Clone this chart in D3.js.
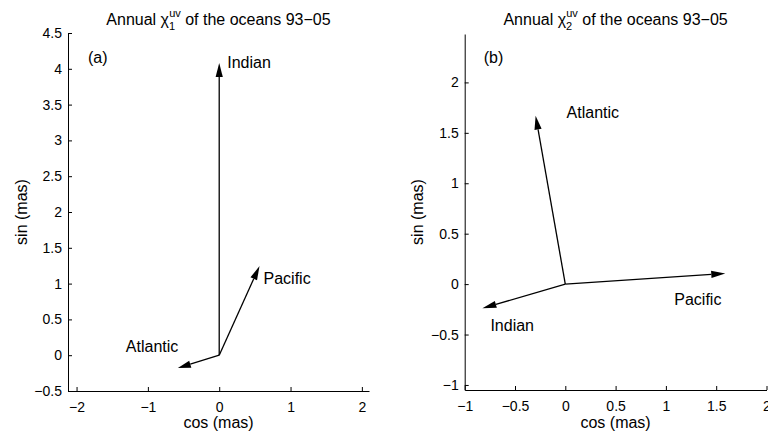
<!DOCTYPE html>
<html>
<head>
<meta charset="utf-8">
<script src="https://cdn.jsdelivr.net/npm/d3@7"></script>
<style>
  body { margin: 0; background: #fff; }
  svg { display: block; font-family: "Liberation Sans", Arial, Helvetica, sans-serif; }
  text { fill: #000; }
</style>
</head>
<body>
<svg id="chart" width="768" height="437"></svg>
<script>
// annual vectors, one per ocean (mas)
var oceans = ["Atlantic", "Indian", "Pacific"]
var cosA = [-0.58, 0.0, 0.565]
var sinA = [-0.18, 4.08, 1.245]
var cosB = [-0.295, -0.824, 1.59]
var sinB = [1.67, -0.24, 0.106]

var xTicksA = [-2, -1, 0, 1, 2]
var yTicksA = [-0.5, 0, 0.5, 1, 1.5, 2, 2.5, 3, 3.5, 4, 4.5]
var xTicksB = [-1, -0.5, 0, 0.5, 1, 1.5, 2]
var yTicksB = [-1, -0.5, 0, 0.5, 1, 1.5, 2]

var svg = d3.select("#chart")
var fmt = function(d) { return String(d).replace("-", "\u2212") }

function panel(p) {
  var g = svg.append("g")
  var x = d3.scaleLinear().domain(p.xDom).range(p.xRange)
  var y = d3.scaleLinear().domain(p.yDom).range(p.yRange)
  var x0 = p.xRange[0], y0 = p.yRange[0]

  // axes (box off, ticks inside)
  var xa = g.append("g").attr("transform", "translate(0," + y0 + ")")
    .call(d3.axisBottom(x).tickValues(p.xTicks).tickFormat(fmt).tickSizeInner(-4).tickSizeOuter(0).tickPadding(8))
  var ya = g.append("g").attr("transform", "translate(" + x0 + ",0)")
    .call(d3.axisLeft(y).tickValues(p.yTicks).tickFormat(fmt).tickSizeInner(-4).tickSizeOuter(0).tickPadding(6))
  ;[xa, ya].forEach(function(a) {
    a.select(".domain").attr("stroke", "#000").attr("stroke-width", 1)
    a.selectAll(".tick line").attr("stroke", "#000")
    a.selectAll(".tick text").attr("font-size", 14).attr("font-family", null)
  })
  xa.selectAll(".tick text").attr("dy", "0.9em")

  // vectors
  var head = 14, half = 3.6
  p.cos.forEach(function(c, i) {
    var sx = x(0), sy = y(0), ex = x(c), ey = y(p.sin[i])
    var dx = ex - sx, dy = ey - sy, L = Math.hypot(dx, dy)
    var ux = dx / L, uy = dy / L
    var h = Math.min(head, L * 0.3)
    var bx = ex - ux * h, by = ey - uy * h
    g.append("line")
      .attr("x1", sx).attr("y1", sy).attr("x2", bx).attr("y2", by)
      .attr("stroke", "#000").attr("stroke-width", 1.3)
    g.append("path")
      .attr("d", "M" + ex + "," + ey +
        "L" + (bx - uy * half) + "," + (by + ux * half) +
        "L" + (bx + uy * half) + "," + (by - ux * half) + "Z")
      .attr("fill", "#000")
    var off = p.labelOff[oceans[i]]
    g.append("text")
      .attr("x", ex + off[0]).attr("y", ey + off[1])
      .attr("font-size", 16)
      .text(oceans[i])
  })

  // panel letter
  g.append("text").attr("x", x0 + p.letterAt[0]).attr("y", p.letterAt[1])
    .attr("font-size", 16).text(p.letter)

  // axis labels
  var cx = (p.xRange[0] + p.xRange[1]) / 2
  g.append("text").attr("x", cx).attr("y", 428)
    .attr("text-anchor", "middle").attr("font-size", 16).text("cos (mas)")
  g.append("text")
    .attr("transform", "translate(" + p.yLabelX + "," + ((p.yRange[0] + p.yRange[1]) / 2) + ") rotate(-90)")
    .attr("text-anchor", "middle").attr("font-size", 16).text("sin (mas)")

  // title
  var t = g.append("text").attr("x", cx).attr("y", 25)
    .attr("text-anchor", "middle").attr("font-size", 16)
  t.append("tspan").text("Annual \u03c7")
  t.append("tspan").attr("font-size", 11).attr("dy", 5).text(p.sub)
  t.append("tspan").attr("font-size", 11).attr("dx", -6).attr("dy", -13).text("uv")
  t.append("tspan").attr("dy", 8).text(" of the oceans 93\u221205")
}

panel({
  xDom: [-2.12, 2.1], xRange: [68, 369],
  yDom: [-0.5, 4.5], yRange: [391, 33],
  xTicks: xTicksA, yTicks: yTicksA,
  cos: cosA, sin: sinA, sub: "1", letter: "(a)", letterAt: [20, 63], yLabelX: 27,
  labelOff: { Atlantic: [-52, -16], Indian: [8, 5], Pacific: [4, 18] }
})

panel({
  xDom: [-1, 2], xRange: [464.7, 766.5],
  yDom: [-1.05, 2.48], yRange: [390, 34],
  xTicks: xTicksB, yTicks: yTicksB,
  cos: cosB, sin: sinB, sub: "2", letter: "(b)", letterAt: [19, 63], yLabelX: 423,
  labelOff: { Atlantic: [31, 2], Indian: [8, 23], Pacific: [-51, 32] }
})
</script>
</body>
</html>
